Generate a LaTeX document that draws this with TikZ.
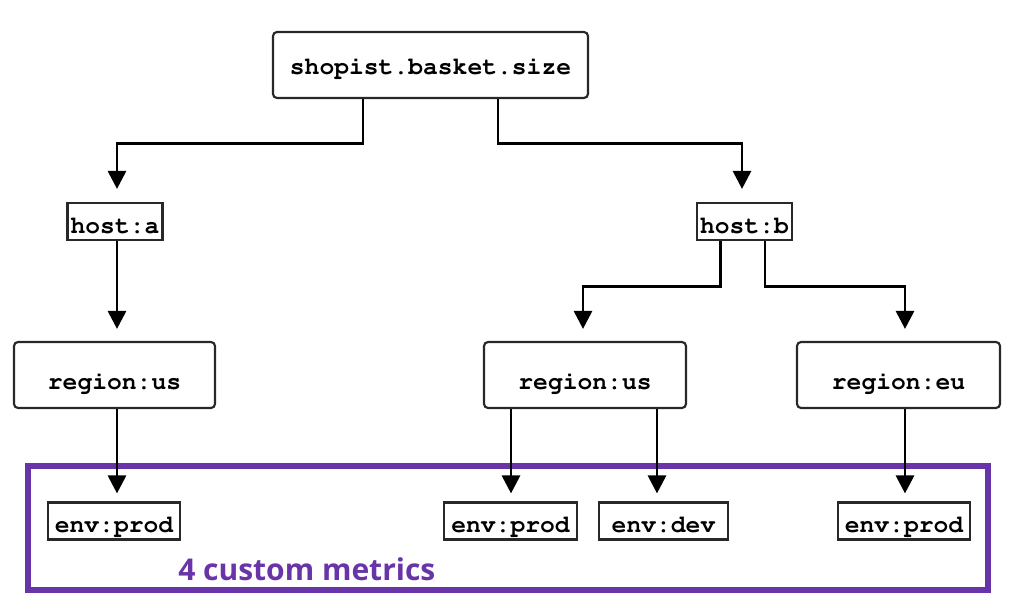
\documentclass[tikz,border=0pt]{standalone}
\usepackage{fontspec}
\newfontfamily\labelfont{Open Sans}
\newcommand{\cour}{\fontencoding{T1}\fontfamily{pcr}\fontseries{b}\fontsize{18.5}{20}\selectfont}
\usetikzlibrary{arrows.meta,calc}
\definecolor{mpurple}{RGB}{104,52,168}
\definecolor{bordergray}{RGB}{40,40,40}
\tikzset{
  boxr/.style={draw=bordergray,line width=1.6pt,rounded corners=3pt,fill=white,
    font=\cour,inner sep=0pt,text depth=0pt},
  boxs/.style={draw=bordergray,line width=1.6pt,fill=white,
    font=\cour,inner sep=0pt,text depth=0pt,text height=17.5pt},
  arr/.style={draw=black,line width=2.2pt,-{Triangle[width=13.5pt,length=13.5pt]}},
}
\begin{document}
\begin{tikzpicture}[x=0.75pt,y=-0.75pt]
\useasboundingbox (0,0) rectangle (1032,616);
% purple frame
\node[draw=mpurple,line width=3.8pt,minimum width=960*0.75pt,minimum height=124*0.75pt,inner sep=0pt] (frame) at (508,528) {};
\node[anchor=base west,text=mpurple,font=\labelfont\bfseries\fontsize{22.5}{24}\selectfont,inner sep=0pt] (lbl) at (178,580) {4 custom metrics};
% nodes
\node[boxr,text height=15pt,minimum width=315*0.75pt,minimum height=66*0.75pt] (top) at (430.5,65) {shopist.basket.size};
\node[boxs,minimum width=95*0.75pt,minimum height=37*0.75pt] (hA) at (115,221.5) {host:a};
\node[boxs,minimum width=95*0.75pt,minimum height=37*0.75pt] (hB) at (744.5,221.5) {host:b};
\node[boxr,text height=22pt,minimum width=201*0.75pt,minimum height=66*0.75pt] (rL) at (114.5,375) {region:us};
\node[boxr,text height=22pt,minimum width=202*0.75pt,minimum height=66*0.75pt] (rM) at (585,375) {region:us};
\node[boxr,text height=22pt,minimum width=203*0.75pt,minimum height=66*0.75pt] (rE) at (898.5,375) {region:eu};
\node[boxs,minimum width=132*0.75pt,minimum height=37*0.75pt] (eL) at (114,521) {env:prod};
\node[boxs,minimum width=133*0.75pt,minimum height=37*0.75pt] (eM) at (510.5,521) {env:prod};
\node[boxs,minimum width=129*0.75pt,minimum height=37*0.75pt] (eD) at (663.5,521) {env:dev};
\node[boxs,minimum width=132*0.75pt,minimum height=37*0.75pt] (eR) at (904,521) {env:prod};
% connectors
\draw[arr,shorten >=13*0.75pt] ($(top.south)+(-67.5,0)$) -- ++(0,44) -| ($(hA.north)+(2,0)$);
\draw[arr,shorten >=13*0.75pt] ($(top.south)+(67.5,0)$) -- ++(0,44) -| ($(hB.north)+(-2.5,0)$);
\draw[arr,shorten >=12*0.75pt] ($(hA.south)+(2,0)$) -- ($(rL.north)+(2.5,0)$);
\draw[arr,shorten >=12*0.75pt] ($(hB.south)+(-24,0)$) -- ++(0,45) -| ($(rM.north)+(-2,0)$);
\draw[arr,shorten >=12*0.75pt] ($(hB.south)+(20.5,0)$) -- ++(0,45) -| ($(rE.north)+(6.5,0)$);
\draw[arr,shorten >=8*0.75pt] ($(rL.south)+(2.5,0)$) -- ($(eL.north)+(3,0)$);
\draw[arr,shorten >=8*0.75pt] ($(rM.south)+(-74,0)$) -- ($(eM.north)+(0.5,0)$);
\draw[arr,shorten >=8*0.75pt] ($(rM.south)+(72,0)$) -- ($(eD.north)+(-6.5,0)$);
\draw[arr,shorten >=8*0.75pt] ($(rE.south)+(6.5,0)$) -- ($(eR.north)+(1,0)$);
\end{tikzpicture}
\end{document}
